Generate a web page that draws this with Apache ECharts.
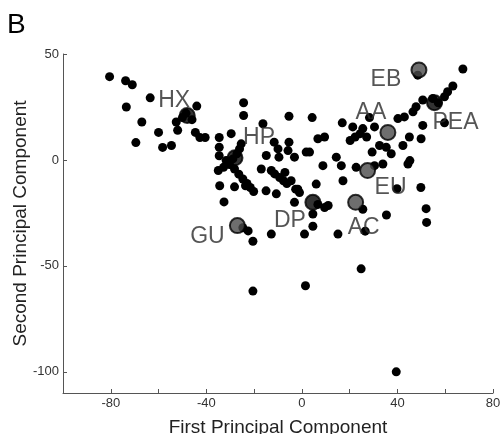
<!DOCTYPE html>
<html>
<head>
<meta charset="utf-8">
<script src="https://cdn.jsdelivr.net/npm/echarts@6/dist/echarts.min.js"></script>
<style>
  html, body { margin: 0; padding: 0; background: #fff; }
  #main { width: 503px; height: 434px; }
</style>
</head>
<body>
<div id="main"></div>
<script>
// PCA scores (first, second principal component)
var samples = [
    [-80.5, 39.3], [-73.8, 37.4], [-71, 35.5], [-63.5, 29.3], [-73.5, 25], [-67, 17.9], [-69.5, 8.2],
    [-60, 13], [-58.3, 5.9], [-54.6, 6.8], [-52.6, 17.9], [-52, 14], [-50, 20], [-46, 19], [-48.5, 22],
    [-44, 25.4], [-44.6, 13], [-42.7, 10.6], [-40.5, 10.6], [-34.6, 10.6], [-34.6, 6], [-34.6, 2],
    [-35, -5], [-34.4, -12.2], [-32.6, -19.8], [-29.6, 12.4], [-24.4, 27], [-24.4, 21],
    [-31.7, -0.3], [-30.3, -2.2], [-28.9, 0.5], [-27.2, 2.9], [-26.1, 5.2], [-25.4, 7.6], [-28.2, -4.3],
    [-26.4, -6.7], [-24.7, -9], [-23, -11.1], [-21.6, -13], [-20.2, -14.9], [-28.2, -12.7], [-23.6, -12.2],
    [-32.8, -3.5],
    [-16.3, 17.1], [-11.6, 8.4], [-5.4, 8.4], [-10, 5.2], [-5.8, 4.4], [-5.4, 20.6], [4.3, 20], [6.7, 10],
    [9.5, 10.8], [3.2, 3.7], [1.8, 3.7], [-3.1, 1.3], [-9.6, 1.3], [-14.9, 2.1], [-17, -4.3], [-11.4, -6.6],
    [-7.1, -5.9], [-4.5, -9.8], [-1.7, -13.8], [-10.7, -16], [-12.8, -5], [-9.3, -8.3], [-7.7, -9.8],
    [-6.3, -11.1], [-2.6, -13.8], [-1, -15.4], [-15, -14.6],
    [8.8, -2.7], [16.5, -2.7], [17.2, -9.8], [6, -11.4], [-3.1, -20], [11, -21.5], [4.6, -31.3], [1.1, -35],
    [-12.8, -35], [-20.5, -38.4], [-24.7, -32], [-22.5, -33.5], [15.1, -35], [4.6, -25.5], [6.7, -21],
    [9.5, -22.5], [14.4, 1.3], [16.9, 17.5],
    [-20.5, -61.9], [1.5, -59.4], [24.8, -51.4], [39.5, -100],
    [21.3, 15.6], [25.5, 14.8], [28.3, 20], [30.4, 15.6], [20.2, 9.2], [22.3, 10.8], [24.4, 12.4], [27.1, 10.8],
    [22.7, -3.5], [30.4, -2.7], [33.9, -1.9], [45.2, -0.3], [49.8, -13], [52, -23], [52.2, -29.5], [39.8, -13.6],
    [35.4, -26], [26.5, -33.6], [25.5, -23.3], [37.4, 2.9], [44.4, -1.9], [42.3, 6.8], [45, 10.8], [49.9, 10],
    [50.6, 16.3], [35.3, 6], [32.5, 6.8], [29.4, 3.7], [40.2, 19.5], [42.9, 20.3], [46.5, 22.7], [47.8, 25.1],
    [50.6, 28.3], [54.8, 29], [57.1, 27], [59.7, 29.8], [61, 32.2], [63.2, 34.9], [67.4, 42.9], [59.7, 17.5],
    [48.5, 40]
];

// labelled group means
var groupNames = ['HX', 'HP', 'GU', 'DP', 'AC', 'EU', 'AA', 'EB', 'PEA'];
var groupPc1 = [-48, -28, -27, 4.6, 22.5, 27.5, 36, 49, 55.5];
var groupPc2 = [21, 1, -31, -20, -20, -5, 13, 42.5, 27];
var groupBlack = ['HX', 'HP', 'DP', 'PEA'];   // these ones are drawn black

var xTicks = [-100, -80, -60, -40, -20, 0, 20, 40, 60, 80];
var xLabels = [-80, -40, 0, 40, 80];
var yTicks = [-100, -50, 0, 50];

// label placement relative to marker (px)
var labelOffset = {
    HX: [-13, -15], HP: [24, -20], GU: [-30, 11], DP: [-23, 18], AC: [8, 25],
    EU: [23, 17], AA: [-17, -20], EB: [-33, 10], PEA: [21, 20]
};

var myChart = echarts.init(document.getElementById('main'));

var groupData = groupNames.map(function (n, i) {
    var black = groupBlack.indexOf(n) >= 0;
    return {
        name: n,
        value: [groupPc1[i], groupPc2[i]],
        itemStyle: {
            color: black ? '#000' : '#4a4a4a',
            borderColor: '#000',
            borderWidth: 2
        },
        label: { offset: labelOffset[n] }
    };
});

myChart.setOption({
    animation: false,
    graphic: [{
        type: 'text',
        left: 7,
        top: 11,
        style: { text: 'B', fontSize: 28, fontFamily: 'Liberation Sans', fill: '#000' }
    }],
    grid: { left: 63, right: 10, top: 54, bottom: 41, outerBoundsMode: 'none', containLabel: false },
    xAxis: {
        type: 'value',
        min: -100,
        max: 80,
        interval: 20,
        name: 'First Principal Component',
        nameLocation: 'middle',
        nameGap: 25,
        nameMoveOverlap: false,
        nameTextStyle: { fontSize: 19, color: '#222', fontFamily: 'Liberation Sans' },
        axisLine: { onZero: false, lineStyle: { color: '#555', width: 1 } },
        axisTick: { inside: true, length: 4, customValues: xTicks, lineStyle: { color: '#555' } },
        axisLabel: {
            margin: 4,
            fontSize: 13,
            color: '#333',
            fontFamily: 'Liberation Sans',
            customValues: xLabels
        },
        splitLine: { show: false }
    },
    yAxis: {
        type: 'value',
        min: -110,
        max: 50,
        name: 'Second Principal Component',
        nameLocation: 'middle',
        nameGap: 33,
        nameMoveOverlap: false,
        nameTextStyle: { fontSize: 19, color: '#222', fontFamily: 'Liberation Sans' },
        axisLine: { show: true, onZero: false, lineStyle: { color: '#555', width: 1 } },
        axisTick: { show: true, inside: true, length: 4, customValues: yTicks, lineStyle: { color: '#555' } },
        axisLabel: {
            margin: 4,
            fontSize: 13,
            color: '#333',
            fontFamily: 'Liberation Sans',
            customValues: yTicks
        },
        splitLine: { show: false }
    },
    series: [{
        type: 'scatter',
        symbolSize: 9,
        itemStyle: { color: '#000', opacity: 1 },
        data: samples
    }, {
        type: 'scatter',
        symbolSize: 15,
        z: 3,
        label: {
            show: true,
            position: 'inside',
            formatter: '{b}',
            fontSize: 23,
            color: '#2b2b2b',
            fontFamily: 'Liberation Sans'
        },
        data: groupData
    }]
});
</script>
</body>
</html>
